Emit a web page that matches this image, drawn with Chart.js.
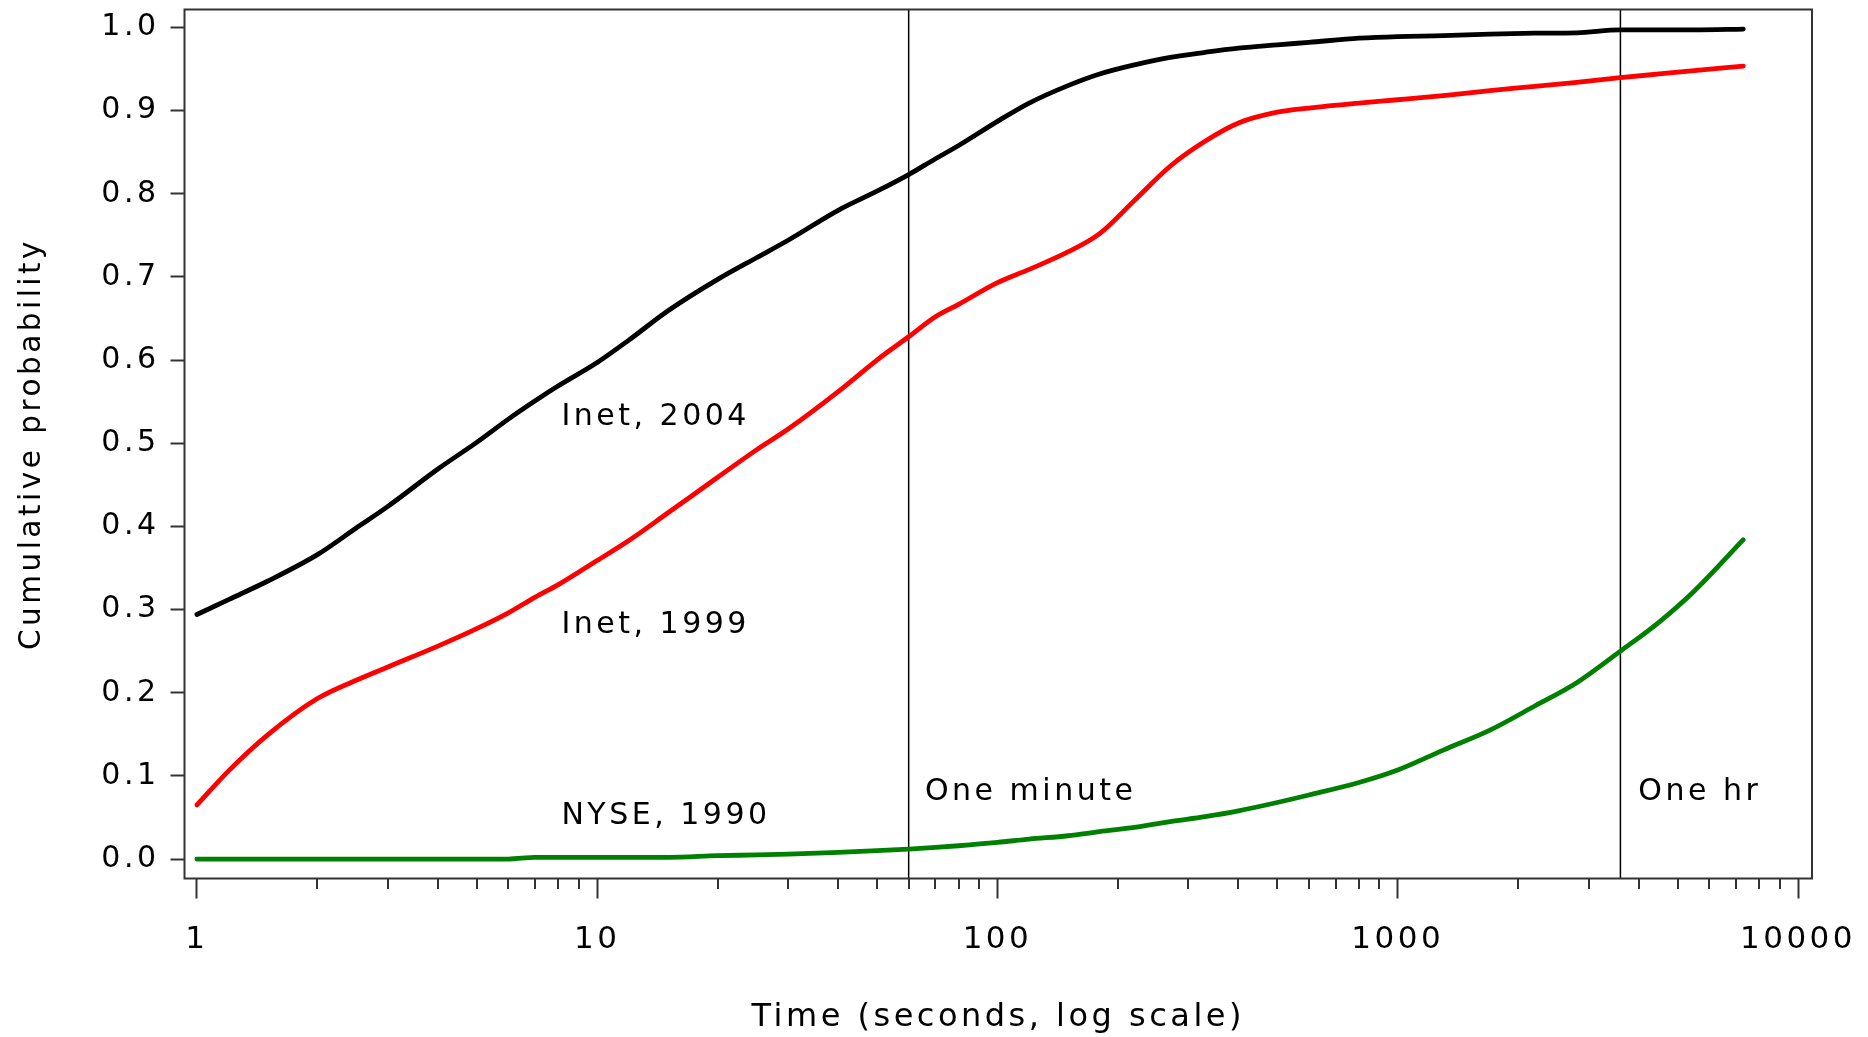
<!DOCTYPE html>
<html><head><meta charset="utf-8">
<script src="https://cdn.jsdelivr.net/npm/chart.js@4.4.1/dist/chart.umd.min.js"></script>
<style>html,body{margin:0;padding:0;background:#fff;} #wrap{width:1868px;height:1037px;position:relative;}</style>
</head><body><div id="wrap"><canvas id="c" width="1868" height="1037"></canvas></div>
<script>
// ---- data ----
const times    = [1, 1.2, 1.5, 2, 2.5, 3, 4, 5, 6, 7, 8, 10, 12, 15, 20, 25, 30, 40, 50, 60, 70, 80, 100, 120, 150, 180, 220, 270, 330, 400, 500, 600, 800, 1000, 1300, 1700, 2200, 2800, 3600, 4500, 5500, 7300];
const inet2004 = [0.294, 0.312, 0.334, 0.366, 0.398, 0.424, 0.469, 0.501, 0.529, 0.551, 0.569, 0.597, 0.624, 0.659, 0.697, 0.723, 0.744, 0.780, 0.803, 0.823, 0.842, 0.858, 0.887, 0.909, 0.930, 0.944, 0.955, 0.964, 0.970, 0.975, 0.979, 0.982, 0.987, 0.989, 0.990, 0.992, 0.993, 0.9935, 0.997, 0.997, 0.997, 0.998];
const inet1999 = [0.065, 0.106, 0.149, 0.193, 0.215, 0.231, 0.256, 0.277, 0.296, 0.315, 0.330, 0.359, 0.383, 0.416, 0.459, 0.492, 0.517, 0.562, 0.600, 0.628, 0.652, 0.667, 0.693, 0.709, 0.730, 0.752, 0.792, 0.833, 0.863, 0.885, 0.898, 0.903, 0.909, 0.913, 0.918, 0.924, 0.929, 0.934, 0.9395, 0.944, 0.948, 0.9535];
const nyse1990 = [0, 0, 0, 0, 0, 0, 0, 0, 0, 0.002, 0.002, 0.002, 0.002, 0.002, 0.004, 0.005, 0.006, 0.008, 0.010, 0.012, 0.014, 0.016, 0.020, 0.024, 0.028, 0.033, 0.038, 0.045, 0.051, 0.058, 0.068, 0.077, 0.092, 0.107, 0.131, 0.155, 0.184, 0.212, 0.250, 0.285, 0.322, 0.384];
const seriesNames  = ['Inet, 2004', 'Inet, 1999', 'NYSE, 1990'];
const markerTimes  = [60, 3600];
const markerNames  = ['One minute', 'One hr'];
const xTickValues  = [1, 10, 100, 1000, 10000];
const xTickLabels  = ['1', '10', '100', '1000', '10000'];
const yTickValues  = [0, 0.1, 0.2, 0.3, 0.4, 0.5, 0.6, 0.7, 0.8, 0.9, 1.0];
const yTickLabels  = ['0.0', '0.1', '0.2', '0.3', '0.4', '0.5', '0.6', '0.7', '0.8', '0.9', '1.0'];
const xTitle = 'Time (seconds, log scale)';
const yTitle = 'Cumulative probability';

// ---- layout / style ----
const X_MIN = 0.931, X_MAX = 10838, Y_MIN = -0.0234, Y_MAX = 1.0215;
const seriesColors = ['#000000', '#ff0000', '#008000'];
const seriesLabelAnchors = [[8.14, 0.5216], [8.14, 0.2713], [8.14, 0.0421]];
const markerLabelAnchors = [[65.9, 0.0709], [3990, 0.0709]];
const FONT = "'DejaVu Sans', sans-serif";
const AXIS_COLOR = '#333333';

const toXY = (xs, ys) => xs.map((x, i) => ({x: x, y: ys[i]}));
const curves = [inet2004, inet1999, nyse1990].map((vals, i) => ({
  label: seriesNames[i],
  data: toXY(times, vals),
  borderColor: seriesColors[i],
  borderWidth: 4.8,
  pointRadius: 0,
  fill: false,
  cubicInterpolationMode: 'monotone',
  borderCapStyle: 'round',
  borderJoinStyle: 'round',
  order: 1
}));
const markers = markerTimes.map((t, i) => ({
  label: markerNames[i],
  data: [{x: t, y: Y_MIN}, {x: t, y: Y_MAX}],
  borderColor: '#000000',
  borderWidth: 1.5,
  pointRadius: 0,
  fill: false,
  order: 2
}));

const spacingPlugin = {
  id: 'spacing',
  beforeDraw(chart) { chart.ctx.letterSpacing = '3.5px'; }
};

const framePlugin = {
  id: 'frame',
  afterDraw(chart) {
    const {ctx, chartArea: a, scales} = chart;
    ctx.save();
    ctx.letterSpacing = '3.5px';
    ctx.strokeStyle = AXIS_COLOR;
    ctx.lineWidth = 2;
    ctx.strokeRect(a.left, a.top, a.right - a.left, a.bottom - a.top);
    ctx.beginPath();
    for (let d = 1; d <= 1000; d *= 10) {
      for (let m = 2; m <= 9; m++) {
        const v = m * d;
        if (v > X_MAX) continue;
        const px = Math.round(scales.x.getPixelForValue(v));
        ctx.moveTo(px, a.bottom);
        ctx.lineTo(px, a.bottom + 10.5);
      }
    }
    ctx.stroke();
    ctx.fillStyle = '#000';
    ctx.font = '30px ' + FONT;
    ctx.textAlign = 'left';
    ctx.textBaseline = 'alphabetic';
    seriesNames.forEach((s, i) => {
      ctx.fillText(s, scales.x.getPixelForValue(seriesLabelAnchors[i][0]), scales.y.getPixelForValue(seriesLabelAnchors[i][1]));
    });
    markerNames.forEach((s, i) => {
      ctx.fillText(s, scales.x.getPixelForValue(markerLabelAnchors[i][0]), scales.y.getPixelForValue(markerLabelAnchors[i][1]));
    });
    ctx.restore();
  }
};

new Chart(document.getElementById('c'), {
  type: 'line',
  data: { datasets: [...curves, ...markers] },
  options: {
    responsive: false,
    animation: false,
    events: [],
    devicePixelRatio: 1,
    layout: { padding: { top: 9.5, right: 56, bottom: 0, left: 0 } },
    plugins: { legend: { display: false }, tooltip: { enabled: false } },
    scales: {
      x: {
        type: 'logarithmic',
        min: X_MIN, max: X_MAX,
        afterBuildTicks(scale) { scale.ticks = xTickValues.map(v => ({value: v, major: true})); },
        afterFit(scale) { scale.height = 158.5; scale.paddingLeft = 0; scale.paddingRight = 0; scale.paddingTop = 0; scale.paddingBottom = 0; },
        grid: { drawOnChartArea: false, drawTicks: true, tickLength: 20, tickWidth: 2, tickColor: AXIS_COLOR },
        border: { display: false },
        ticks: {
          autoSkip: false, maxRotation: 0, padding: 23,
          color: '#000',
          font: { family: FONT, size: 31, lineHeight: 1.2 },
          callback(v) { const i = xTickValues.indexOf(v); return i >= 0 ? xTickLabels[i] : ''; }
        },
        title: { display: true, text: xTitle, color: '#000', font: { family: FONT, size: 32, lineHeight: 1.2 }, padding: { top: 0, bottom: 0 } }
      },
      y: {
        type: 'linear',
        min: Y_MIN, max: Y_MAX,
        afterBuildTicks(scale) { scale.ticks = yTickValues.map(v => ({value: v})); },
        afterFit(scale) { scale.width = 184.5; scale.paddingLeft = 0; scale.paddingRight = 0; scale.paddingTop = 0; scale.paddingBottom = 0; },
        grid: { drawOnChartArea: false, drawTicks: true, tickLength: 14, tickWidth: 2, tickColor: AXIS_COLOR },
        border: { display: false },
        ticks: {
          autoSkip: false, padding: 11,
          color: '#000',
          font: { family: FONT, size: 30, lineHeight: 1.2 },
          callback(v) { const i = yTickValues.findIndex(t => Math.abs(t - v) < 1e-9); return i >= 0 ? yTickLabels[i] : ''; }
        },
        title: { display: true, text: yTitle, color: '#000', font: { family: FONT, size: 29.5, lineHeight: 1.2 }, padding: { top: 15, bottom: 0 } }
      }
    }
  },
  plugins: [spacingPlugin, framePlugin]
});
</script>
</body></html>
